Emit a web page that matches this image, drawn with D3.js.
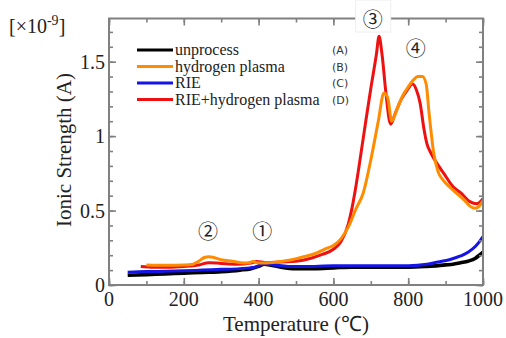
<!DOCTYPE html>
<html>
<head>
<meta charset="utf-8">
<script src="https://cdn.jsdelivr.net/npm/d3@7"></script>
<style>
  body { margin: 0; background: #fff; }
  svg { display: block; }
</style>
</head>
<body>
<div id="chart"></div>
<script>
// ---- data (temperature in degC, ionic strength in 1e-9 A) ----
const seriesNames = ['unprocess', 'hydrogen plasma', 'RIE', 'RIE+hydrogen plasma'];
const seriesTags = ['(A)', '(B)', '(C)', '(D)'];
const seriesColors = ['#000000', '#ff8c00', '#1414e6', '#ee1111'];

const tempA = [50,100,150,200,250,300,350,380,400,415,430,460,500,550,600,650,700,750,800,850,880,900,920,940,960,980,990,1000];
const valA  = [0.065,0.07,0.075,0.08,0.085,0.09,0.1,0.11,0.125,0.14,0.135,0.12,0.11,0.11,0.115,0.12,0.12,0.12,0.12,0.125,0.13,0.135,0.14,0.15,0.16,0.18,0.2,0.22];

const tempB = [100,150,200,225,240,255,267,280,300,330,360,375,385,395,410,450,485,520,550,580,600,620,640,660,680,700,720,735,745,756,770,785,800,815,825,838,848,856,868,880,895,910,930,950,965,980,990,1000];
const valB  = [0.135,0.133,0.135,0.14,0.16,0.185,0.19,0.185,0.17,0.16,0.148,0.15,0.158,0.15,0.148,0.155,0.168,0.19,0.21,0.245,0.265,0.31,0.39,0.51,0.62,0.84,1.10,1.29,1.26,1.10,1.18,1.27,1.33,1.38,1.40,1.40,1.35,1.15,0.89,0.76,0.70,0.66,0.615,0.57,0.53,0.515,0.53,0.565];

const tempC = [50,100,150,200,250,300,350,390,415,440,480,550,600,650,700,750,800,850,880,910,940,960,980,990,1000];
const valC  = [0.085,0.09,0.092,0.095,0.1,0.105,0.11,0.12,0.14,0.135,0.125,0.125,0.13,0.13,0.13,0.13,0.13,0.14,0.155,0.17,0.195,0.22,0.26,0.29,0.325];

const tempD = [85,120,160,200,240,267,300,340,380,395,420,460,500,540,570,600,620,640,650,660,680,700,715,722,730,740,753,765,780,795,812,822,832,842,850,862,876,895,920,940,965,983,1000];
const valD  = [0.125,0.12,0.12,0.125,0.135,0.15,0.145,0.14,0.148,0.158,0.15,0.155,0.16,0.18,0.205,0.24,0.29,0.41,0.52,0.66,0.99,1.32,1.55,1.67,1.55,1.3,1.08,1.15,1.24,1.3,1.35,1.31,1.22,1.05,0.95,0.88,0.82,0.75,0.66,0.62,0.56,0.545,0.58];

const xTicks = [0, 200, 400, 600, 800, 1000];
const yTicks = [0, 0.5, 1, 1.5];
const yTickLabels = ['0', '0.5', '1', '1.5'];

// peak markers: label, temperature, value (position in data units)
const peakLabels = ['①', '②', '③', '④'];
const peakTemps = [410, 265, 705, 820];
const peakVals = [0.36, 0.36, 1.80, 1.59];

// ---- layout ----
const width = 506, height = 338;
const margin = {top: 18.5, right: 23, bottom: 53, left: 109};
const serif = '"Liberation Serif", "Times New Roman", serif';

const svg = d3.select('#chart').append('svg')
  .attr('width', width)
  .attr('height', height);

const x = d3.scaleLinear().domain([0, 1000]).range([margin.left, width - margin.right]);
const y = d3.scaleLinear().domain([0, 1.79]).range([height - margin.bottom, margin.top]);

const series = [
  {t: tempA, v: valA},
  {t: tempB, v: valB},
  {t: tempC, v: valC},
  {t: tempD, v: valD}
].map((s, i) => ({
  name: seriesNames[i], tag: seriesTags[i], color: seriesColors[i],
  points: s.t.map((t, j) => [t, s.v[j]])
}));

const line = d3.line()
  .x(d => x(d[0]))
  .y(d => y(d[1]))
  .curve(d3.curveMonotoneX);

// draw order: black, blue, red, orange on top
const plotG = svg.append('g');
[0, 2, 3, 1].forEach(i => {
  plotG.append('path')
    .datum(series[i].points)
    .attr('fill', 'none')
    .attr('stroke', series[i].color)
    .attr('stroke-width', i === 0 ? 3.6 : 3)
    .attr('stroke-linejoin', 'round')
    .attr('d', line);
});

// ---- axes (box with inward ticks) ----
const axisColor = '#808080';
const minorX = d3.range(0, 1001, 100);
const minorY = d3.range(0, 1.75, 0.1);

function tickAxis(axisGen, tr) {
  const g = svg.append('g').attr('transform', tr).call(axisGen);
  g.select('.domain').remove();
  g.selectAll('.tick line').attr('stroke', axisColor).attr('stroke-width', 1.6);
  return g;
}

// bottom / top
[[height - margin.bottom, -1], [margin.top, 1]].forEach(([py, dir]) => {
  tickAxis(d3.axisBottom(x).tickValues(minorX).tickSize(dir * 4).tickFormat(''), `translate(0,${py})`);
  tickAxis(d3.axisBottom(x).tickValues(xTicks).tickSize(dir * 7).tickFormat(''), `translate(0,${py})`);
});
// left / right
[[margin.left, 1], [width - margin.right, -1]].forEach(([px, dir]) => {
  tickAxis(d3.axisLeft(y).tickValues(minorY).tickSize(-dir * 4).tickFormat(''), `translate(${px},0)`);
  tickAxis(d3.axisLeft(y).tickValues(yTicks).tickSize(-dir * 7).tickFormat(''), `translate(${px},0)`);
});

svg.append('rect')
  .attr('x', margin.left).attr('y', margin.top)
  .attr('width', width - margin.left - margin.right)
  .attr('height', height - margin.top - margin.bottom)
  .attr('fill', 'none')
  .attr('stroke', axisColor)
  .attr('stroke-width', 2);

// tick labels
svg.append('g').selectAll('text')
  .data(xTicks).enter().append('text')
  .attr('x', d => x(d))
  .attr('y', 306)
  .attr('text-anchor', 'middle')
  .style('font', `20px ${serif}`)
  .attr('fill', '#222')
  .text(d => d);

svg.append('g').selectAll('text')
  .data(yTicks).enter().append('text')
  .attr('x', margin.left - 4)
  .attr('y', d => y(d) + 7)
  .attr('text-anchor', 'end')
  .style('font', `20px ${serif}`)
  .attr('fill', '#222')
  .text((d, i) => yTickLabels[i]);

// axis titles
svg.append('text')
  .attr('x', (margin.left + width - margin.right) / 2)
  .attr('y', 331)
  .attr('text-anchor', 'middle')
  .style('font', `21px ${serif}`)
  .attr('fill', '#222')
  .text('Temperature (℃)');

svg.append('text')
  .attr('transform', `translate(71,150) rotate(-90)`)
  .attr('text-anchor', 'middle')
  .style('font', `21px ${serif}`)
  .attr('fill', '#222')
  .text('Ionic Strength (A)');

const unit = svg.append('text')
  .attr('x', 9).attr('y', 33)
  .style('font', `20px ${serif}`)
  .attr('fill', '#222');
unit.append('tspan').text('[×10');
unit.append('tspan').attr('dy', -8).style('font-size', '14px').text('-9');
unit.append('tspan').attr('dy', 8).text(']');

// ---- legend ----
const legend = svg.append('g');
series.forEach((s, i) => {
  const ly = 50 + i * 16.5;
  legend.append('line')
    .attr('x1', 137).attr('x2', 173)
    .attr('y1', ly).attr('y2', ly)
    .attr('stroke', s.color).attr('stroke-width', 3);
  legend.append('text')
    .attr('x', 175).attr('y', ly + 5)
    .style('font', `16px ${serif}`)
    .attr('fill', '#222')
    .text(s.name);
  legend.append('text')
    .attr('x', 332).attr('y', ly + 4)
    .style('font', '11px "DejaVu Sans", sans-serif')
    .attr('fill', '#333')
    .text(s.tag);
});

// ---- peak labels ----
svg.append('rect')
  .attr('x', x(peakTemps[2]) - 17).attr('y', 0)
  .attr('width', 35).attr('height', 32)
  .attr('fill', '#fff')
  .attr('stroke', '#eee');

svg.append('g').selectAll('text')
  .data(peakLabels).enter().append('text')
  .attr('x', (d, i) => x(peakTemps[i]))
  .attr('y', (d, i) => y(peakVals[i]) + 8)
  .attr('dy', (d, i) => i === 2 ? 2 : 0)
  .attr('text-anchor', 'middle')
  .style('font', '20px "Noto Sans CJK JP", "DejaVu Sans", sans-serif')
  .attr('fill', '#222')
  .text(d => d);
</script>
</body>
</html>
